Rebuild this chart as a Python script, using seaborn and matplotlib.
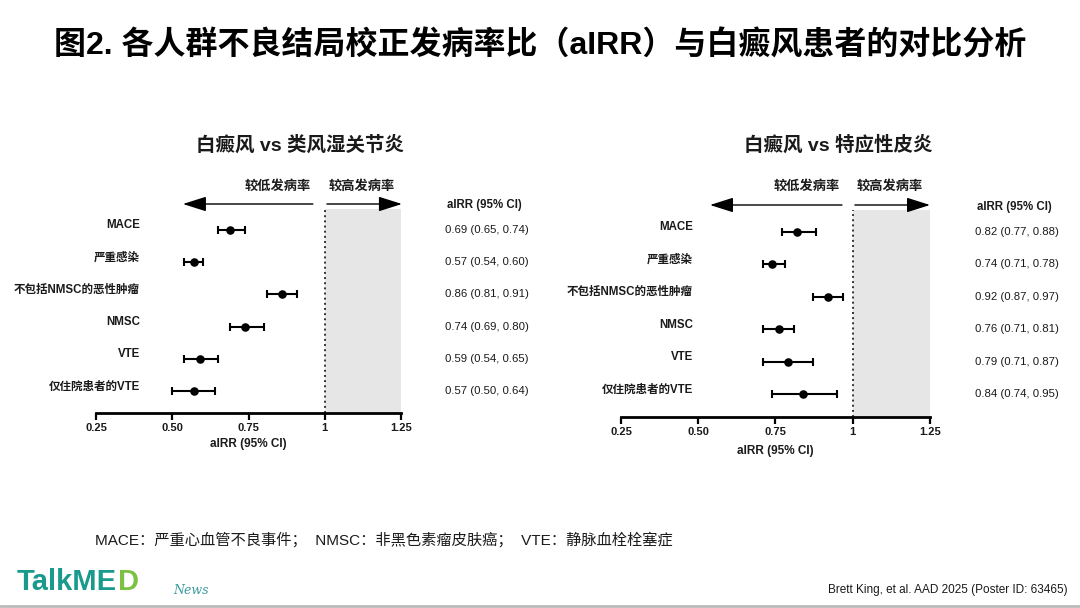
import matplotlib
matplotlib.use('Agg')
import matplotlib.pyplot as plt
import matplotlib.transforms as mtransforms
import pandas as pd
import seaborn as sns

# data
rows = ['MACE', '严重感染', '不包括NMSC的恶性肿瘤', 'NMSC', 'VTE', '仅住院患者的VTE']

ra_est = [0.69, 0.57, 0.86, 0.74, 0.59, 0.57]
ra_lo = [0.65, 0.54, 0.81, 0.69, 0.54, 0.50]
ra_hi = [0.74, 0.60, 0.91, 0.80, 0.65, 0.64]

ad_est = [0.82, 0.74, 0.92, 0.76, 0.79, 0.84]
ad_lo = [0.77, 0.71, 0.87, 0.71, 0.71, 0.74]
ad_hi = [0.88, 0.78, 0.97, 0.81, 0.87, 0.95]

xticks = [0.25, 0.50, 0.75, 1.0, 1.25]
xticklabels = ['0.25', '0.50', '0.75', '1', '1.25']

panel_titles = ['白癜风 vs 类风湿关节炎', '白癜风 vs 特应性皮炎']
title = '图2. 各人群不良结局校正发病率比（aIRR）与白癜风患者的对比分析'
footnote = 'MACE：严重心血管不良事件；  NMSC：非黑色素瘤皮肤癌；  VTE：静脉血栓栓塞症'
source = 'Brett King, et al. AAD 2025 (Poster ID: 63465)'

sns.set_theme(style='white')
plt.rcParams['font.family'] = ['Liberation Sans', 'Noto Sans CJK SC', 'DejaVu Sans']
TXT = '#1a1a1a'

fig = plt.figure(figsize=(10.8, 6.08), dpi=100)
W, H = 1080, 608


def fx(px):
    return px / W


def fy(py):
    return 1 - py / H


# per-panel layout in pixels: axes left/right/top/bottom, label edge, value column x, title centre
panels = [
    dict(est=ra_est, lo=ra_lo, hi=ra_hi, left=96, right=401, top=209, bottom=413,
         ylim=(5.68, -0.65), label_x=140, val_x=445, head_y=205, title_x=300,
         arrow_y=204, arrow_l=(0.961, 0.535), arrow_r=(1.007, 1.253),
         lab_l=0.847, lab_r=1.122, xlabel_pad=4),
    dict(est=ad_est, lo=ad_lo, hi=ad_hi, left=621, right=930, top=210, bottom=417,
         ylim=(5.71, -0.68), label_x=693, val_x=975, head_y=207, title_x=838,
         arrow_y=205, arrow_l=(0.965, 0.538), arrow_r=(1.007, 1.25),
         lab_l=0.852, lab_r=1.12, xlabel_pad=6),
]

for p, ptitle in zip(panels, panel_titles):
    ax = fig.add_axes([fx(p['left']), fy(p['bottom']),
                       fx(p['right'] - p['left']), (p['bottom'] - p['top']) / H])
    ax.set_facecolor('none')
    df = pd.DataFrame({'row': range(len(rows)), 'label': rows,
                       'est': p['est'], 'lo': p['lo'], 'hi': p['hi']})

    ax.axvspan(1.0, 1.25, color='#e6e6e6', zorder=0, lw=0)
    ax.axvline(1.0, color='#333333', ls=':', lw=1.4, zorder=1)
    ax.errorbar(df['est'], df['row'],
                xerr=[df['est'] - df['lo'], df['hi'] - df['est']],
                fmt='none', ecolor='black', elinewidth=1.5, capsize=3.2, capthick=1.5, zorder=2)
    sns.scatterplot(data=df, x='est', y='row', ax=ax, color='black', s=38,
                    edgecolor='black', linewidth=0, zorder=3, legend=False)

    ax.set_xlim(0.25, 1.25)
    ax.set_ylim(*p['ylim'])
    ax.set_xticks(xticks)
    ax.set_xticklabels(xticklabels, fontsize=8, fontweight='bold', color=TXT)
    ax.set_yticks([])
    ax.set_ylabel('')
    ax.set_xlabel('aIRR (95% CI)', fontsize=8.5, fontweight='bold', color=TXT,
                  labelpad=p['xlabel_pad'])
    for s in ['left', 'top', 'right']:
        ax.spines[s].set_visible(False)
    ax.spines['bottom'].set_linewidth(2)
    ax.spines['bottom'].set_color('black')
    ax.tick_params(axis='x', direction='out', length=5, width=1.6, color='black', pad=2,
                   bottom=True)

    # row labels and value column
    lab_tr = mtransforms.blended_transform_factory(fig.transFigure, ax.transData)
    for _, r in df.iterrows():
        ax.text(fx(p['label_x']), r['row'] - 0.14, r['label'], transform=lab_tr,
                ha='right', va='center', fontsize=8.3, fontweight='bold', color=TXT)
        ax.text(fx(p['val_x']), r['row'], f"{r['est']:.2f} ({r['lo']:.2f}, {r['hi']:.2f})",
                transform=lab_tr, ha='left', va='center', fontsize=8.2, color=TXT)
    fig.text(fx(p['val_x'] + 2), fy(p['head_y']), 'aIRR (95% CI)', ha='left', va='center',
             fontsize=8.3, fontweight='bold', color=TXT)

    # direction arrows above the plot
    arr_tr = mtransforms.blended_transform_factory(ax.transData, fig.transFigure)
    ay = fy(p['arrow_y'])
    for x0, x1 in [p['arrow_l'], p['arrow_r']]:
        ax.annotate('', xy=(x1, ay), xytext=(x0, ay), xycoords=arr_tr, textcoords=arr_tr,
                    arrowprops=dict(arrowstyle='-|>,head_length=1.2,head_width=0.38',
                                    color='black', lw=1.0, shrinkA=0, shrinkB=0),
                    annotation_clip=False)
    ax.text(p['lab_l'], fy(187), '较低发病率', transform=arr_tr, ha='center', va='center',
            fontsize=9.5, fontweight='bold', color=TXT)
    ax.text(p['lab_r'], fy(187), '较高发病率', transform=arr_tr, ha='center', va='center',
            fontsize=9.5, fontweight='bold', color=TXT)

    fig.text(fx(p['title_x']), fy(145), ptitle, ha='center', va='center',
             fontsize=14, fontweight='bold', color=TXT)

# slide title, footnote, source
fig.text(0.5, fy(46), title, ha='center', va='center', fontsize=23, fontweight='bold',
         color='black')
fig.text(fx(95), fy(540), footnote, ha='left', va='center', fontsize=11, color=TXT)
fig.text(fx(1068), fy(590), source, ha='right', va='center', fontsize=8.5, color=TXT)

# logo as text: "TalkME" in teal, "D" in green right after it
renderer = fig.canvas.get_renderer()
t1 = fig.text(fx(17), fy(582), 'TalkME', ha='left', va='center', fontsize=21,
              color='#1a9a8c', fontweight='bold')
bb = t1.get_window_extent(renderer=renderer)
fig.text(bb.x1 / W + 0.001, fy(582), 'D', ha='left', va='center', fontsize=21,
         color='#7cc142', fontweight='bold')
fig.text(fx(173), fy(590), 'News', ha='left', va='center', fontsize=9,
         color='#3a9aa0', style='italic', family=['DejaVu Serif'])

# faint bottom rule
fig.add_artist(plt.Line2D([0, 1], [fy(606), fy(606)], color='#bbbbbb', lw=2,
                          transform=fig.transFigure))

fig.savefig('out.png', dpi=100)
